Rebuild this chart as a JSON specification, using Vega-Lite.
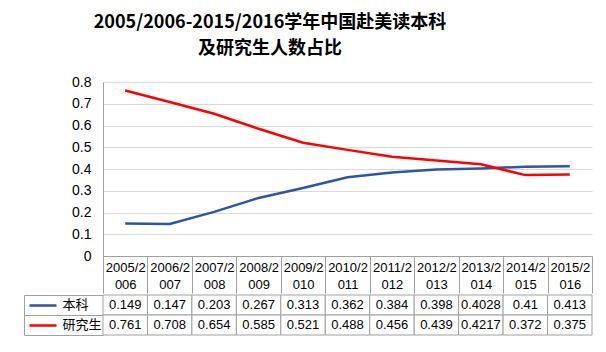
{
  "$schema": "https://vega.github.io/schema/vega-lite/v6.json",
  "background": "white",
  "padding": {"left": 23, "top": 14, "right": 10, "bottom": 10},
  "title": {
    "text": ["2005/2006-2015/2016学年中国赴美读本科", "及研究生人数占比"],
    "font": "Noto Sans CJK SC",
    "fontSize": 18,
    "fontWeight": "bold",
    "color": "#000000",
    "anchor": "middle",
    "dx": -38,
    "lineHeight": 26,
    "offset": 17
  },
  "data": {
    "values": [
      {"year": "2005/2006", "series": "本科", "value": 0.149},
      {"year": "2006/2007", "series": "本科", "value": 0.147},
      {"year": "2007/2008", "series": "本科", "value": 0.203},
      {"year": "2008/2009", "series": "本科", "value": 0.267},
      {"year": "2009/2010", "series": "本科", "value": 0.313},
      {"year": "2010/2011", "series": "本科", "value": 0.362},
      {"year": "2011/2012", "series": "本科", "value": 0.384},
      {"year": "2012/2013", "series": "本科", "value": 0.398},
      {"year": "2013/2014", "series": "本科", "value": 0.4028},
      {"year": "2014/2015", "series": "本科", "value": 0.41},
      {"year": "2015/2016", "series": "本科", "value": 0.413},
      {"year": "2005/2006", "series": "研究生", "value": 0.761},
      {"year": "2006/2007", "series": "研究生", "value": 0.708},
      {"year": "2007/2008", "series": "研究生", "value": 0.654},
      {"year": "2008/2009", "series": "研究生", "value": 0.585},
      {"year": "2009/2010", "series": "研究生", "value": 0.521},
      {"year": "2010/2011", "series": "研究生", "value": 0.488},
      {"year": "2011/2012", "series": "研究生", "value": 0.456},
      {"year": "2012/2013", "series": "研究生", "value": 0.439},
      {"year": "2013/2014", "series": "研究生", "value": 0.4217},
      {"year": "2014/2015", "series": "研究生", "value": 0.372},
      {"year": "2015/2016", "series": "研究生", "value": 0.375}
    ]
  },
  "spacing": 0,
  "config": {
    "view": {"stroke": null},
    "font": "Liberation Sans",
    "axis": {"labelFont": "Liberation Sans"}
  },
  "vconcat": [
    {
      "width": 489,
      "height": 174,
      "mark": {"type": "line", "strokeWidth": 2.5},
      "encoding": {
        "x": {
          "field": "year",
          "type": "ordinal",
          "scale": {"type": "band", "paddingInner": 0, "paddingOuter": 0},
          "axis": {
            "title": null,
            "orient": "bottom",
            "domainColor": "#A0A0A0",
            "tickColor": "#A0A0A0",
            "tickSize": 37,
            "tickBand": "extent",
            "labelExpr": "[substring(datum.label,0,6), substring(datum.label,6)]",
            "labelAngle": 0,
            "labelFontSize": 13,
            "labelColor": "#000000",
            "labelPadding": -32,
            "labelLineHeight": 17,
            "labelBaseline": "top",
            "labelOverlap": false,
            "labelBound": false
          }
        },
        "y": {
          "field": "value",
          "type": "quantitative",
          "scale": {"domain": [0, 0.8]},
          "axis": {
            "title": null,
            "tickCount": 8,
            "format": ".1~f",
            "ticks": false,
            "domainColor": "#A0A0A0",
            "gridColor": "#D9D9D9",
            "labelFontSize": 14,
            "labelPadding": 12,
            "labelColor": "#000000"
          }
        },
        "color": {
          "field": "series",
          "type": "nominal",
          "scale": {"domain": ["本科", "研究生"], "range": ["#2F55A4", "#FF0000"]},
          "legend": null
        }
      }
    },
    {
      "width": 489,
      "height": 40,
      "encoding": {
        "x": {
          "field": "year",
          "type": "ordinal",
          "scale": {"type": "band", "paddingInner": 0, "paddingOuter": 0},
          "axis": null
        }
      },
      "layer": [
        {
          "mark": {"type": "rect", "fill": "white", "stroke": "#A0A0A0", "strokeWidth": 1},
          "encoding": {
            "y": {
              "field": "series",
              "type": "nominal",
              "scale": {"domain": ["本科", "研究生"], "paddingInner": 0, "paddingOuter": 0},
              "axis": {
                "title": null,
                "orient": "left",
                "domain": false,
                "offset": 47,
                "tickSize": 27,
                "tickWidth": 2.5,
                "tickColor": {"condition": {"test": "datum.value === '本科'", "value": "#2F55A4"}, "value": "#FF0000"},
                "labelAlign": "left",
                "labelPadding": -33,
                "labelFont": "Noto Sans CJK SC",
                "labelFontSize": 13,
                "labelColor": "#000000"
              }
            }
          }
        },
        {
          "mark": {"type": "text", "fontSize": 13, "color": "#000000"},
          "encoding": {
            "text": {"field": "value", "type": "nominal"},
            "y": {
              "field": "series",
              "type": "nominal",
              "scale": {"domain": ["本科", "研究生"], "paddingInner": 0, "paddingOuter": 0},
              "axis": {
                "title": null,
                "orient": "left",
                "offset": 79,
                "domain": true,
                "domainColor": "#A0A0A0",
                "ticks": true,
                "tickBand": "extent",
                "tickSize": -79,
                "tickColor": "#A0A0A0",
                "labels": false
              }
            }
          }
        }
      ],
      "resolve": {"axis": {"y": "independent"}}
    }
  ]
}
